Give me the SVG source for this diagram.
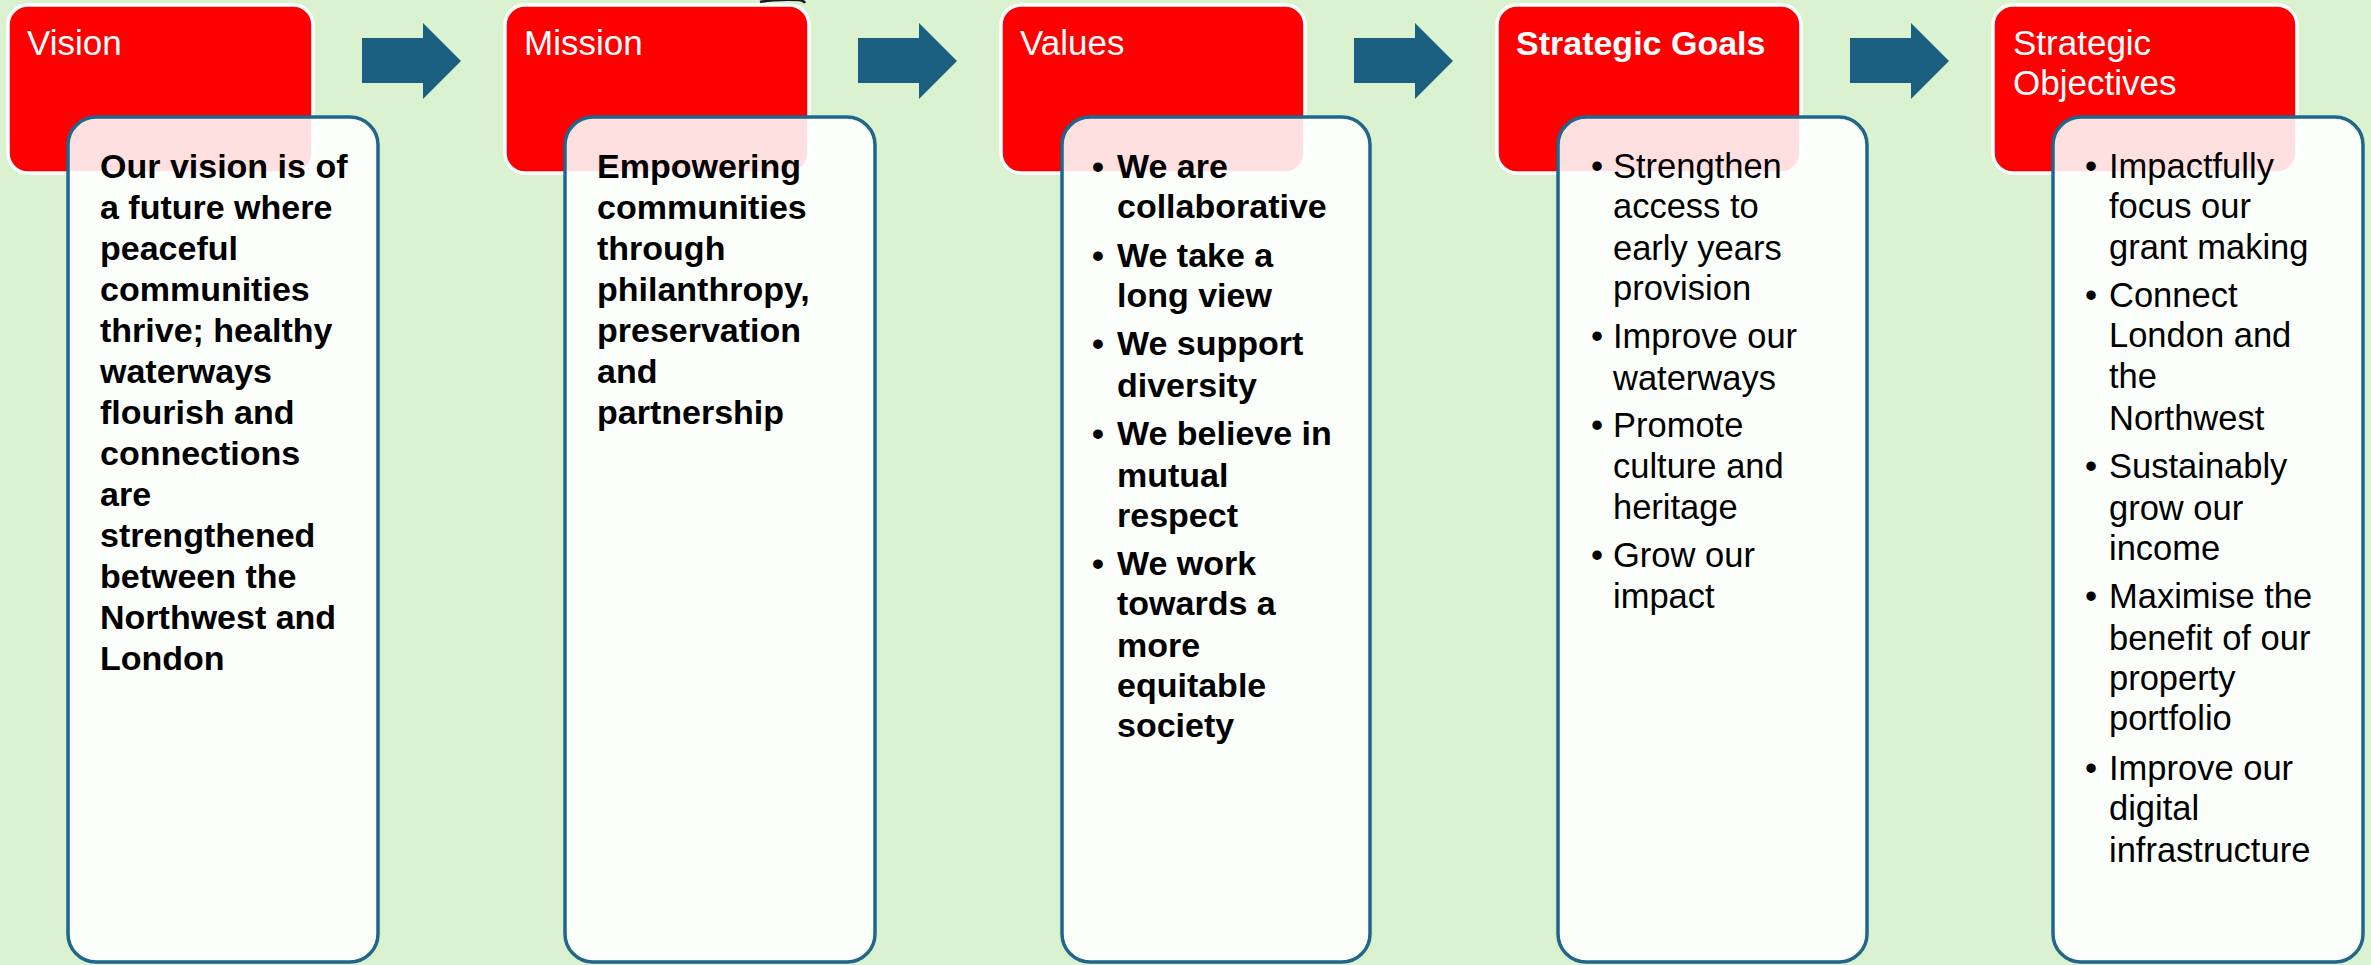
<svg xmlns="http://www.w3.org/2000/svg" width="2371" height="965" viewBox="0 0 2371 965">
<style>
.bg{fill:#daf2d0}
.hdr{fill:#ff0000;stroke:#ffffff;stroke-width:3.5}
.card{fill:#ffffff;fill-opacity:0.88;stroke:#1f668c;stroke-width:3.5}
.arrow{fill:#1a5f80}
.ht{font-family:"Liberation Sans",Arial,sans-serif;font-size:35px;fill:#ffffff;font-weight:400}
.htb{font-weight:700;font-size:34px}
.bt{font-family:"Liberation Sans",Arial,sans-serif;font-size:34.5px;fill:#000000}
.sb{font-weight:700;font-size:34px}
</style>
<rect class="bg" x="0" y="0" width="2371" height="965"/>
<path d="M760,2 Q775,-1 800,0 Q804,1 805,3" fill="none" stroke="#1a1a1a" stroke-width="2.5"/>

<g id="connectors">
  <polygon class="arrow" points="362,38 423,38 423,23 461,61 423,99 423,83 362,83"/>
  <polygon class="arrow" points="858,38 919,38 919,23 957,61 919,99 919,83 858,83"/>
  <polygon class="arrow" points="1354,38 1415,38 1415,23 1453,61 1415,99 1415,83 1354,83"/>
  <polygon class="arrow" points="1850,38 1911,38 1911,23 1949,61 1911,99 1911,83 1850,83"/>
</g>

<g id="vision">
  <rect class="hdr" x="8" y="5" width="305" height="168" rx="20"/>
  <text class="ht" x="27" y="55">Vision</text>
  <rect class="card" x="68" y="117" width="310" height="845" rx="28"/>
  <text class="bt sb">
    <tspan x="100" y="178">Our vision is of</tspan>
    <tspan x="100" y="219">a future where</tspan>
    <tspan x="100" y="260">peaceful</tspan>
    <tspan x="100" y="301">communities</tspan>
    <tspan x="100" y="342">thrive; healthy</tspan>
    <tspan x="100" y="383">waterways</tspan>
    <tspan x="100" y="424">flourish and</tspan>
    <tspan x="100" y="465">connections</tspan>
    <tspan x="100" y="506">are</tspan>
    <tspan x="100" y="547">strengthened</tspan>
    <tspan x="100" y="588">between the</tspan>
    <tspan x="100" y="629">Northwest and</tspan>
    <tspan x="100" y="670">London</tspan>
  </text>
</g>

<g id="mission">
  <rect class="hdr" x="505" y="5" width="304" height="168" rx="20"/>
  <text class="ht" x="524" y="55">Mission</text>
  <rect class="card" x="565" y="117" width="310" height="845" rx="28"/>
  <text class="bt sb">
    <tspan x="597" y="178">Empowering</tspan>
    <tspan x="597" y="219">communities</tspan>
    <tspan x="597" y="260">through</tspan>
    <tspan x="597" y="301">philanthropy,</tspan>
    <tspan x="597" y="342">preservation</tspan>
    <tspan x="597" y="383">and</tspan>
    <tspan x="597" y="424">partnership</tspan>
  </text>
</g>

<g id="values">
  <rect class="hdr" x="1001" y="5" width="304" height="168" rx="20"/>
  <text class="ht" x="1020" y="55">Values</text>
  <rect class="card" x="1062" y="117" width="308" height="845" rx="28"/>
  <text class="bt sb"><tspan x="1092" y="178">•</tspan><tspan x="1117" y="178">We are</tspan></text>
  <text class="bt sb" x="1117" y="218">collaborative</text>
  <text class="bt sb"><tspan x="1092" y="267">•</tspan><tspan x="1117" y="267">We take a</tspan></text>
  <text class="bt sb" x="1117" y="307">long view</text>
  <text class="bt sb"><tspan x="1092" y="355">•</tspan><tspan x="1117" y="355">We support</tspan></text>
  <text class="bt sb" x="1117" y="397">diversity</text>
  <text class="bt sb"><tspan x="1092" y="445">•</tspan><tspan x="1117" y="445">We believe in</tspan></text>
  <text class="bt sb" x="1117" y="487">mutual</text>
  <text class="bt sb" x="1117" y="527">respect</text>
  <text class="bt sb"><tspan x="1092" y="575">•</tspan><tspan x="1117" y="575">We work</tspan></text>
  <text class="bt sb" x="1117" y="615">towards a</text>
  <text class="bt sb" x="1117" y="657">more</text>
  <text class="bt sb" x="1117" y="697">equitable</text>
  <text class="bt sb" x="1117" y="737">society</text>
</g>

<g id="strategic-goals">
  <rect class="hdr" x="1497" y="5" width="304" height="168" rx="20"/>
  <text class="ht htb" x="1516" y="55">Strategic Goals</text>
  <rect class="card" x="1558" y="117" width="309" height="845" rx="28"/>
  <text class="bt"><tspan x="1591" y="178">•</tspan><tspan x="1613" y="178">Strengthen</tspan></text>
  <text class="bt" x="1613" y="218">access to</text>
  <text class="bt" x="1613" y="260">early years</text>
  <text class="bt" x="1613" y="300">provision</text>
  <text class="bt"><tspan x="1591" y="348">•</tspan><tspan x="1613" y="348">Improve our</tspan></text>
  <text class="bt" x="1613" y="390">waterways</text>
  <text class="bt"><tspan x="1591" y="437">•</tspan><tspan x="1613" y="437">Promote</tspan></text>
  <text class="bt" x="1613" y="478">culture and</text>
  <text class="bt" x="1613" y="519">heritage</text>
  <text class="bt"><tspan x="1591" y="567">•</tspan><tspan x="1613" y="567">Grow our</tspan></text>
  <text class="bt" x="1613" y="608">impact</text>
</g>

<g id="strategic-objectives">
  <rect class="hdr" x="1993" y="5" width="304" height="168" rx="20"/>
  <text class="ht">
    <tspan x="2013" y="55">Strategic</tspan>
    <tspan x="2013" y="95">Objectives</tspan>
  </text>
  <rect class="card" x="2053" y="117" width="310" height="845" rx="28"/>
  <text class="bt"><tspan x="2085" y="178">•</tspan><tspan x="2109" y="178">Impactfully</tspan></text>
  <text class="bt" x="2109" y="218">focus our</text>
  <text class="bt" x="2109" y="259">grant making</text>
  <text class="bt"><tspan x="2085" y="307">•</tspan><tspan x="2109" y="307">Connect</tspan></text>
  <text class="bt" x="2109" y="347">London and</text>
  <text class="bt" x="2109" y="388">the</text>
  <text class="bt" x="2109" y="430">Northwest</text>
  <text class="bt"><tspan x="2085" y="478">•</tspan><tspan x="2109" y="478">Sustainably</tspan></text>
  <text class="bt" x="2109" y="520">grow our</text>
  <text class="bt" x="2109" y="560">income</text>
  <text class="bt"><tspan x="2085" y="608">•</tspan><tspan x="2109" y="608">Maximise the</tspan></text>
  <text class="bt" x="2109" y="650">benefit of our</text>
  <text class="bt" x="2109" y="690">property</text>
  <text class="bt" x="2109" y="730">portfolio</text>
  <text class="bt"><tspan x="2085" y="780">•</tspan><tspan x="2109" y="780">Improve our</tspan></text>
  <text class="bt" x="2109" y="820">digital</text>
  <text class="bt" x="2109" y="862">infrastructure</text>
</g>
</svg>
